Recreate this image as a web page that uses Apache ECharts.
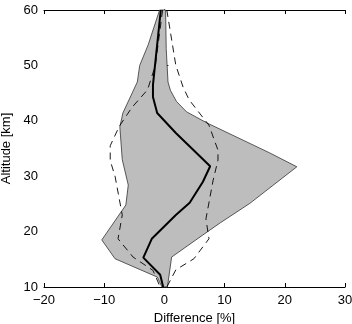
<!DOCTYPE html>
<html>
<head>
<meta charset="utf-8">
<script src="https://cdn.jsdelivr.net/npm/echarts@6/dist/echarts.min.js"></script>
<style>
  html, body { margin: 0; padding: 0; background: #fff; }
  #chart { width: 352px; height: 324px; }
</style>
</head>
<body>
<div id="chart"></div>
<script>
// [difference %, altitude km]
const lowerBound = [[-0.8, 60], [-2.7, 53.7], [-4.1, 50], [-4.5, 47], [-6.9, 41.4], [-7.4, 38.9], [-7.0, 33],
  [-6.0, 28.4], [-6.4, 24.8], [-10.4, 18.5], [-8.2, 15.1], [-1.2, 11.8], [-0.4, 10]]
const upperBound = [[0.2, 60], [0.3, 53], [0.6, 47], [1.0, 45.5], [2.0, 43.5], [3.7, 41.6], [7.1, 39.6],
  [17.5, 34.2], [22, 31.7], [14.2, 25.1], [9.3, 21.6], [6.4, 19.4], [1.2, 15.4], [0.5, 10]]
const meanDiff = [[-0.6, 60], [-1.9, 46.5], [-1.9, 44.3], [-1.2, 41.4], [1.9, 37.8], [7.6, 31.8], [6.4, 29],
  [4.2, 25.2], [1.9, 23], [-2.1, 18.7], [-3.5, 15.3], [-0.7, 12.2], [-0.2, 10]]
const dashLeft = [[-0.3, 60], [-1.5, 50], [-2.8, 45.6], [-5.4, 42.4], [-7.5, 39], [-9, 35.5], [-9, 32.8],
  [-8.2, 30], [-7, 23], [-7.7, 18.7], [-5.2, 15.4], [-1.9, 13], [-0.7, 10]]
const dashRight = [[0.4, 60], [1.9, 50], [3.1, 46.1], [4.1, 43.8], [7.4, 39.2], [8.9, 34.7], [8.9, 32.9],
  [8.1, 29.3], [6.9, 22.3], [7.4, 18.7], [4.9, 15.1], [1.9, 13.1], [0.4, 10]]

const xTicks = [-20, -10, 0, 10, 20, 30]
const yTicks = [10, 20, 30, 40, 50, 60]

const chart = echarts.init(document.getElementById('chart'))
const band = lowerBound.concat(upperBound.slice().reverse())
const font = { fontFamily: 'Liberation Sans', fontSize: 13, color: '#000' }

const axisCommon = {
  type: 'value',
  axisLine: { show: true, lineStyle: { color: '#000', width: 1 } },
  axisTick: { show: true, inside: true, length: 4, lineStyle: { color: '#000' } },
  splitLine: { show: false },
}

chart.setOption({
  animation: false,
  grid: { left: 44, right: 7, top: 10, bottom: 37, outerBoundsMode: 'none', containLabel: false },
  xAxis: [
    {
      ...axisCommon,
      min: xTicks[0], max: xTicks[xTicks.length - 1], interval: 10,
      name: 'Difference [%]', nameLocation: 'middle', nameGap: 25,
      nameTextStyle: font,
      axisLabel: {
        ...font, margin: 7,
        formatter: v => (v < 0 ? '\u2212' + Math.abs(v) : '' + v)
      },
    },
    { ...axisCommon, position: 'top', min: -20, max: 30, interval: 10, axisLabel: { show: false } },
  ],
  yAxis: [
    {
      ...axisCommon,
      min: yTicks[0], max: yTicks[yTicks.length - 1], interval: 10,
      name: 'Altitude [km]', nameLocation: 'middle', nameGap: 28,
      nameTextStyle: font,
      axisLabel: { ...font, margin: 6 },
    },
    { ...axisCommon, position: 'right', min: 10, max: 60, interval: 10, axisLabel: { show: false } },
  ],
  series: [
    {
      type: 'custom',
      data: [[0, 35]],
      z: 1,
      renderItem: (params, api) => ({
        type: 'polygon',
        shape: { points: band.map(p => api.coord(p)) },
        style: { fill: '#bdbdbd', stroke: '#333', lineWidth: 0.8 },
      }),
    },
    {
      type: 'line', data: dashLeft, symbol: 'none', z: 3,
      lineStyle: { color: '#000', width: 0.9, type: [7, 5] },
    },
    {
      type: 'line', data: dashRight, symbol: 'none', z: 3,
      lineStyle: { color: '#000', width: 0.9, type: [7, 5] },
    },
    {
      type: 'line', data: meanDiff, symbol: 'none', z: 4,
      lineStyle: { color: '#000', width: 2 },
    },
  ],
})
</script>
</body>
</html>
